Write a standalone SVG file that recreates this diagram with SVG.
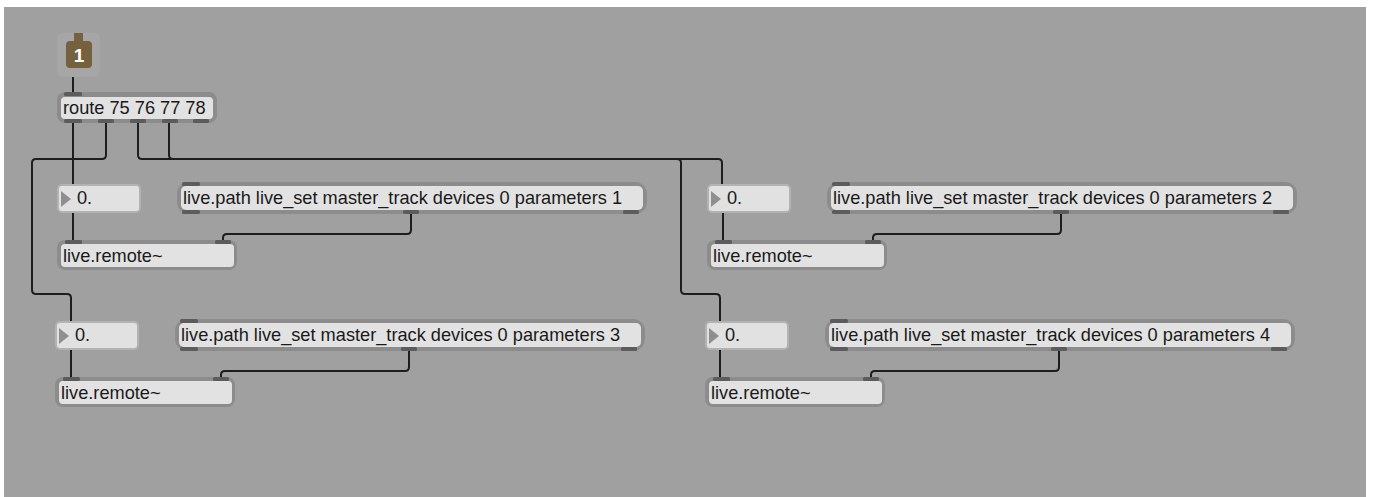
<svg xmlns="http://www.w3.org/2000/svg" width="1373" height="497" viewBox="0 0 1373 497">
<style>
.bg{fill:#a0a0a0}
.ring{fill:#8c8c8c}
.box{fill:#e2e2e2}
.num{fill:#e1e1e1;stroke:#b3b3b3;stroke-width:2}
.tri{fill:#8f8f8f}
.tab{fill:#5c5c5c}
.t{font-family:"Liberation Sans",Arial,sans-serif;font-size:18.2px;fill:#1a1a1a}
.c{fill:none;stroke:#1e1e1e;stroke-width:2;stroke-linejoin:round}
</style>
<rect width="1373" height="497" fill="#ffffff"/>
<rect class="bg" x="4" y="7" width="1362" height="490"/>

<g id="connectors">
<path class="c" d="M73 68 V93"/>
<path class="c" d="M73 121 V185"/>
<path class="c" d="M106 121 V155 Q106 159 102 159 H36 Q32 159 32 163 V290 Q32 294 36 294 H67 Q71 294 71 298 V322"/>
<path class="c" d="M138 121 V155 Q138 159 142 159 H718 Q722 159 722 163 V185"/>
<path class="c" d="M169 121 V155 Q169 159 173 159 H677 Q681 159 681 163 V290 Q681 294 685 294 H716 Q720 294 720 298 V322"/>
<path class="c" d="M73 212 V241"/>
<path class="c" d="M723 212 V241"/>
<path class="c" d="M71 349 V377"/>
<path class="c" d="M720 349 V377"/>
<path class="c" d="M411 213 V230 Q411 234 407 234 H227 Q223 234 223 238 V241"/>
<path class="c" d="M1061 213 V230 Q1061 234 1057 234 H877 Q873 234 873 238 V241"/>
<path class="c" d="M409 350 V367 Q409 371 405 371 H225 Q221 371 221 375 V377"/>
<path class="c" d="M1059 350 V367 Q1059 371 1055 371 H875 Q871 371 871 375 V377"/>
</g>

<g id="inlet1">
<rect x="57" y="33" width="43" height="44" rx="6" fill="#a6a6a6"/>
<rect x="74" y="33" width="9" height="10" fill="#76613e"/>
<rect x="66" y="41" width="26" height="27" rx="4" fill="#76613e"/>
<text x="79" y="62" text-anchor="middle" font-family="'Liberation Sans',Arial,sans-serif" font-size="19" font-weight="bold" fill="#ffffff">1</text>
</g>

<g id="route">
<rect class="ring" x="57" y="92" width="160" height="31" rx="8"/>
<rect class="box" x="61" y="97" width="152" height="22" rx="4"/>
<rect class="tab" x="64" y="92" width="18" height="4" rx="1.5"/>
<rect class="tab" x="64" y="119" width="18" height="4" rx="1.5"/>
<rect class="tab" x="98" y="119" width="16" height="4" rx="1.5"/>
<rect class="tab" x="130" y="119" width="16" height="4" rx="1.5"/>
<rect class="tab" x="162" y="119" width="16" height="4" rx="1.5"/>
<rect class="tab" x="193" y="119" width="16" height="4" rx="1.5"/>
<text class="t" x="63" y="114">route 75 76 77 78</text>
</g>

<g id="num1">
<rect class="num" x="58" y="185" width="82" height="27" rx="4"/>
<polygon class="tri" points="61,191 61,207 71,199"/>
<text class="t" x="77" y="204">0.</text>
</g>
<g id="path1">
<rect class="ring" x="177" y="182" width="470" height="32" rx="12"/>
<rect class="box" x="181" y="186" width="462" height="24" rx="5"/>
<rect class="tab" x="182" y="182" width="18" height="4" rx="1.5"/>
<rect class="tab" x="182" y="210" width="18" height="4" rx="1.5"/>
<rect class="tab" x="403" y="210" width="16" height="4" rx="1.5"/>
<rect class="tab" x="623" y="210" width="16" height="4" rx="1.5"/>
<text class="t" x="183" y="204" textLength="439">live.path live_set master_track devices 0 parameters 1</text>
</g>
<g id="remote1">
<rect class="ring" x="57" y="240" width="180" height="30" rx="8"/>
<rect class="box" x="61" y="244" width="173" height="23" rx="4"/>
<rect class="tab" x="65" y="240" width="17" height="4" rx="1.5"/>
<rect class="tab" x="215" y="240" width="16" height="4" rx="1.5"/>
<text class="t" x="63" y="262">live.remote~</text>
</g>

<g id="num2" transform="translate(650,0)">
<rect class="num" x="58" y="185" width="82" height="27" rx="4"/>
<polygon class="tri" points="61,191 61,207 71,199"/>
<text class="t" x="77" y="204">0.</text>
</g>
<g id="path2" transform="translate(650,0)">
<rect class="ring" x="177" y="182" width="470" height="32" rx="12"/>
<rect class="box" x="181" y="186" width="462" height="24" rx="5"/>
<rect class="tab" x="182" y="182" width="18" height="4" rx="1.5"/>
<rect class="tab" x="182" y="210" width="18" height="4" rx="1.5"/>
<rect class="tab" x="403" y="210" width="16" height="4" rx="1.5"/>
<rect class="tab" x="623" y="210" width="16" height="4" rx="1.5"/>
<text class="t" x="183" y="204" textLength="439">live.path live_set master_track devices 0 parameters 2</text>
</g>
<g id="remote2" transform="translate(650,0)">
<rect class="ring" x="57" y="240" width="180" height="30" rx="8"/>
<rect class="box" x="61" y="244" width="173" height="23" rx="4"/>
<rect class="tab" x="65" y="240" width="17" height="4" rx="1.5"/>
<rect class="tab" x="215" y="240" width="16" height="4" rx="1.5"/>
<text class="t" x="63" y="262">live.remote~</text>
</g>

<g id="num3" transform="translate(-2,137)">
<rect class="num" x="58" y="185" width="82" height="27" rx="4"/>
<polygon class="tri" points="61,191 61,207 71,199"/>
<text class="t" x="77" y="204">0.</text>
</g>
<g id="path3" transform="translate(-2,137)">
<rect class="ring" x="177" y="182" width="470" height="32" rx="12"/>
<rect class="box" x="181" y="186" width="462" height="24" rx="5"/>
<rect class="tab" x="182" y="182" width="18" height="4" rx="1.5"/>
<rect class="tab" x="182" y="210" width="18" height="4" rx="1.5"/>
<rect class="tab" x="403" y="210" width="16" height="4" rx="1.5"/>
<rect class="tab" x="623" y="210" width="16" height="4" rx="1.5"/>
<text class="t" x="183" y="204" textLength="439">live.path live_set master_track devices 0 parameters 3</text>
</g>
<g id="remote3" transform="translate(-2,137)">
<rect class="ring" x="57" y="240" width="180" height="30" rx="8"/>
<rect class="box" x="61" y="244" width="173" height="23" rx="4"/>
<rect class="tab" x="65" y="240" width="17" height="4" rx="1.5"/>
<rect class="tab" x="215" y="240" width="16" height="4" rx="1.5"/>
<text class="t" x="63" y="262">live.remote~</text>
</g>

<g id="num4" transform="translate(648,137)">
<rect class="num" x="58" y="185" width="82" height="27" rx="4"/>
<polygon class="tri" points="61,191 61,207 71,199"/>
<text class="t" x="77" y="204">0.</text>
</g>
<g id="path4" transform="translate(648,137)">
<rect class="ring" x="177" y="182" width="470" height="32" rx="12"/>
<rect class="box" x="181" y="186" width="462" height="24" rx="5"/>
<rect class="tab" x="182" y="182" width="18" height="4" rx="1.5"/>
<rect class="tab" x="182" y="210" width="18" height="4" rx="1.5"/>
<rect class="tab" x="403" y="210" width="16" height="4" rx="1.5"/>
<rect class="tab" x="623" y="210" width="16" height="4" rx="1.5"/>
<text class="t" x="183" y="204" textLength="439">live.path live_set master_track devices 0 parameters 4</text>
</g>
<g id="remote4" transform="translate(648,137)">
<rect class="ring" x="57" y="240" width="180" height="30" rx="8"/>
<rect class="box" x="61" y="244" width="173" height="23" rx="4"/>
<rect class="tab" x="65" y="240" width="17" height="4" rx="1.5"/>
<rect class="tab" x="215" y="240" width="16" height="4" rx="1.5"/>
<text class="t" x="63" y="262">live.remote~</text>
</g>
</svg>
